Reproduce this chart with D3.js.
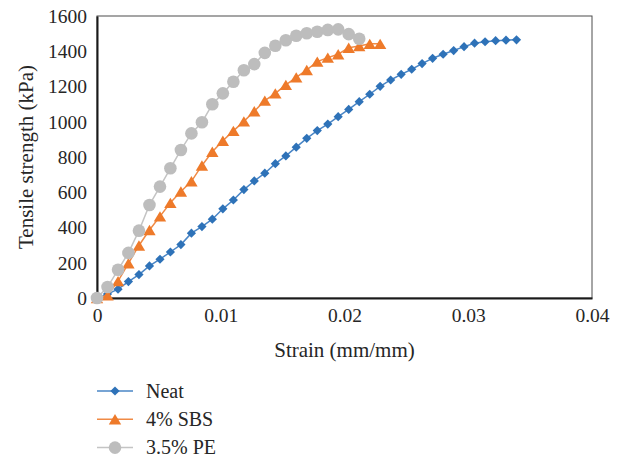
<!DOCTYPE html>
<html>
<head>
<meta charset="utf-8">
<script src="https://cdn.jsdelivr.net/npm/d3@7/dist/d3.min.js"></script>
<style>
  html, body { margin: 0; padding: 0; background: #ffffff; }
  svg { display: block; }
  text { font-family: "Liberation Serif", "DejaVu Serif", serif; fill: #262626; }
</style>
</head>
<body>
<script>
// ---- data ----
const strain = [0, 0.00085, 0.0017, 0.00254, 0.00339, 0.00424, 0.00509, 0.00593, 0.00678, 0.00763,
  0.00848, 0.00932, 0.01017, 0.01102, 0.01187, 0.01271, 0.01356, 0.01441, 0.01526, 0.0161,
  0.01695, 0.0178, 0.01865, 0.01949, 0.02034, 0.02119, 0.02204, 0.02288, 0.02373, 0.02458,
  0.02543, 0.02627, 0.02712, 0.02797, 0.02882, 0.02966, 0.03051, 0.03136, 0.03221, 0.03305, 0.0339];
const neat = [0, 22, 50, 93, 133, 182, 220, 261, 303, 368,
  405, 447, 506, 556, 615, 664, 708, 762, 806, 856,
  906, 950, 987, 1029, 1070, 1114, 1156, 1201, 1237, 1269,
  1298, 1330, 1360, 1383, 1404, 1426, 1446, 1454, 1460, 1463, 1465];
const sbs = [0, 15, 96, 197, 298, 386, 463, 540, 604, 662,
  752, 830, 892, 948, 1002, 1060, 1120, 1161, 1209, 1252,
  1294, 1341, 1364, 1383, 1420, 1430, 1442, 1442];
const pe = [0, 62, 160, 256, 382, 528, 632, 736, 840, 934,
  997, 1099, 1161, 1227, 1292, 1327, 1391, 1431, 1462, 1488,
  1502, 1511, 1521, 1524, 1497, 1471];
const seriesNames = ["Neat", "4% SBS", "3.5% PE"];
const xTicks = [0, 0.01, 0.02, 0.03, 0.04];
const xTickLabels = ["0", "0.01", "0.02", "0.03", "0.04"];
const yTicks = [0, 200, 400, 600, 800, 1000, 1200, 1400, 1600];
const yTickLabels = ["0", "200", "400", "600", "800", "1000", "1200", "1400", "1600"];
const xTitle = "Strain (mm/mm)";
const yTitle = "Tensile strength (kPa)";

// ---- chart ----
const W = 619, H = 458;
const colors = ["#2E72B8", "#EE7A2A", "#BDBDBD"];
const lineColors = ["#4A86C6", "#F08A45", "#C4C4C4"];
const markerPaths = [
  "M0,-4.6L4.6,0L0,4.6L-4.6,0Z",
  "M0,-5.2L6.2,5.2L-6.2,5.2Z",
  d3.symbol().type(d3.symbolCircle).size(Math.PI * 6.3 * 6.3)()
];

const svg = d3.select("body").append("svg").attr("width", W).attr("height", H);
const x = d3.scaleLinear().domain([0, 0.04]).range([97, 592]);
const y = d3.scaleLinear().domain([0, 1600]).range([298, 16]);

// plot border
svg.append("rect")
  .attr("x", x(0)).attr("y", y(1600))
  .attr("width", x(0.04) - x(0)).attr("height", y(0) - y(1600))
  .attr("fill", "none").attr("stroke", "#4d4d4d").attr("stroke-width", 1);

const xAxis = svg.append("g").attr("transform", `translate(0,${y(0)})`)
  .call(d3.axisBottom(x).tickValues(xTicks).tickSize(0).tickPadding(10)
    .tickFormat((d, i) => xTickLabels[i]));
const yAxis = svg.append("g").attr("transform", `translate(${x(0)},0)`)
  .call(d3.axisLeft(y).tickValues(yTicks).tickSize(0).tickPadding(10)
    .tickFormat((d, i) => yTickLabels[i]));
[xAxis, yAxis].forEach(g => {
  g.attr("font-family", null);
  g.selectAll("text").attr("font-size", 19.5).attr("fill", "#262626");
  g.select(".domain").attr("stroke", "#1a1a1a").attr("stroke-width", 2);
});

svg.append("text").attr("x", (x(0) + x(0.04)) / 2).attr("y", 357)
  .attr("text-anchor", "middle").attr("font-size", 21).text(xTitle);
svg.append("text").attr("transform", `translate(33,${(y(0) + y(1600)) / 2}) rotate(-90)`)
  .attr("text-anchor", "middle").attr("font-size", 21).text(yTitle);

const seriesData = [neat, sbs, pe].map(arr => arr.map((v, i) => ({ s: strain[i], v })));
const line = d3.line().x(d => x(d.s)).y(d => y(d.v));

seriesData.forEach((data, k) => {
  const g = svg.append("g");
  g.append("path").datum(data).attr("d", line)
    .attr("fill", "none").attr("stroke", lineColors[k]).attr("stroke-width", 1.5);
  g.selectAll("path.m").data(data).enter().append("path").attr("class", "m")
    .attr("transform", d => `translate(${x(d.s)},${y(d.v)})`)
    .attr("d", markerPaths[k])
    .attr("fill", colors[k]);
});

// legend
const legend = svg.append("g");
seriesNames.forEach((name, k) => {
  const ly = 391 + k * 28.3;
  legend.append("line").attr("x1", 97).attr("x2", 133).attr("y1", ly).attr("y2", ly)
    .attr("stroke", lineColors[k]).attr("stroke-width", 1.5);
  legend.append("path").attr("transform", `translate(115,${ly})`)
    .attr("d", markerPaths[k]).attr("fill", colors[k]);
  legend.append("text").attr("x", 146).attr("y", ly + 6.5).attr("font-size", 20).text(name);
});
</script>
</body>
</html>
